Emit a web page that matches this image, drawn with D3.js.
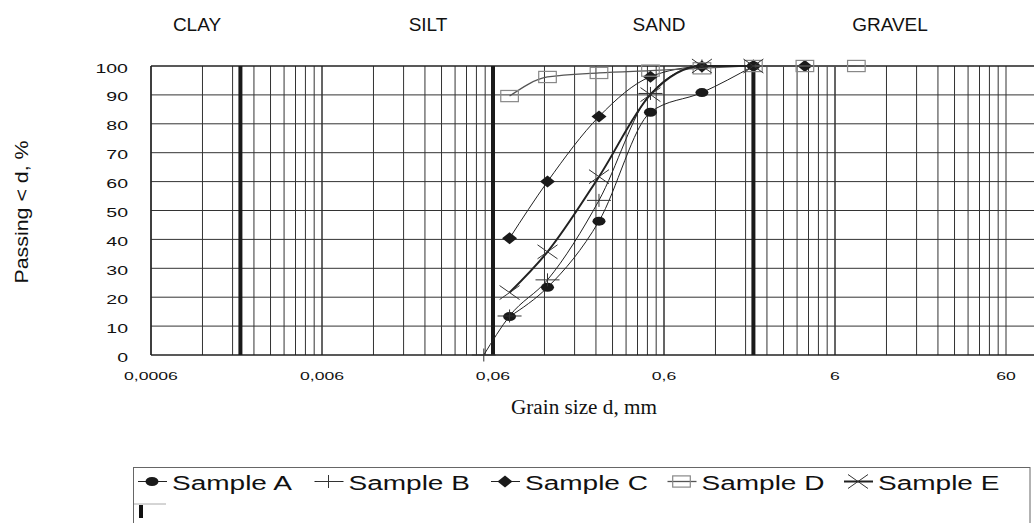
<!DOCTYPE html>
<html>
<head>
<meta charset="utf-8">
<script src="https://cdn.jsdelivr.net/npm/d3@7"></script>
<style>
    body { margin: 0; background: #fff; }
    svg text { font-family: "Liberation Sans", Arial, sans-serif; fill: #111; }
</style>
</head>
<body>
<div id="chart"></div>
<script>
/* ===== GRAIN SIZE DISTRIBUTION CHART ===== */

// Soil zones and their boundaries (mm)
const zoneNames = ['CLAY', 'SILT', 'SAND', 'GRAVEL'];
const zoneLimits = [0.002, 0.06, 2];

// Axis ticks
const xTickValues = [0.0006, 0.006, 0.06, 0.6, 6, 60];
const xTickLabels = ['0,0006', '0,006', '0,06', '0,6', '6', '60'];
const yTickValues = [0, 10, 20, 30, 40, 50, 60, 70, 80, 90, 100];

// Series: grain size d (mm) and passing (%)
const sampleNames = ['Sample A', 'Sample B', 'Sample C', 'Sample D', 'Sample E'];
const sizesA = [0.075, 0.125, 0.25, 0.5, 1, 2];
const passingA = [13.3, 23.4, 46.3, 84, 90.8, 100];
const sizesB = [0.053, 0.075, 0.125, 0.25, 0.5, 1, 2];
const passingB = [0, 13.5, 26, 53.5, 90.5, 100, 100];
const sizesC = [0.075, 0.125, 0.25, 0.5, 1, 2, 4];
const passingC = [40.4, 60, 82.5, 96.3, 99.8, 100, 100];
const sizesD = [0.075, 0.125, 0.25, 0.5, 1, 2, 4, 8];
const passingD = [89.6, 96.2, 97.6, 98.4, 99.2, 100, 100, 100];
const sizesE = [0.075, 0.125, 0.25, 0.5, 1, 2];
const passingE = [21.6, 35.7, 61.7, 90.1, 100, 100];

const W = 1034, H = 523;

const svg = d3.select('#chart').append('svg')
    .attr('width', W)
    .attr('height', H);

const x = d3.scaleLog().domain([0.0006, 60]).range([151, 1006]);
const y = d3.scaleLinear().domain([0, 100]).range([355, 66]);
const plotRight = 1044; // frame runs past the window edge

// stretch text horizontally (the original uses a wide face)
function stretch(sel, factor) {
    sel.each(function () {
        const w = this.getComputedTextLength();
        d3.select(this).attr('textLength', w * factor).attr('lengthAdjust', 'spacingAndGlyphs');
    });
}

// ----- grid -----
const grid = svg.append('g');
const minorValues = [];
for (let n = 0; n < 5; n++) {
    for (let k = 1; k <= 10; k++) {
        minorValues.push(0.0006 * Math.pow(10, n) * k);
    }
}
grid.selectAll('.vgrid')
    .data(minorValues)
    .enter().append('line')
    .attr('x1', d => x(d)).attr('x2', d => x(d))
    .attr('y1', y(0)).attr('y2', y(100))
    .attr('stroke', '#333').attr('stroke-width', 1);

grid.selectAll('.hgrid')
    .data(yTickValues)
    .enter().append('line')
    .attr('x1', x(0.0006)).attr('x2', plotRight)
    .attr('y1', d => y(d)).attr('y2', d => y(d))
    .attr('stroke', d => (d === 0 || d === 100) ? '#222' : '#333')
    .attr('stroke-width', d => (d === 0 || d === 100) ? 1.5 : 1);

grid.append('line')
    .attr('x1', x(0.0006)).attr('x2', x(0.0006))
    .attr('y1', y(0)).attr('y2', y(100))
    .attr('stroke', '#222').attr('stroke-width', 1.5);

// thick zone boundaries
grid.selectAll('.zone')
    .data(zoneLimits)
    .enter().append('line')
    .attr('x1', d => x(d)).attr('x2', d => x(d))
    .attr('y1', y(0)).attr('y2', y(100))
    .attr('stroke', '#1a1a1a').attr('stroke-width', 4);

// ----- axes labels -----
const yLabels = svg.append('g').selectAll('text')
    .data(yTickValues)
    .enter().append('text')
    .attr('x', 128)
    .attr('y', d => y(d) + 6.5)
    .attr('text-anchor', 'end')
    .style('font-size', '13px')
    .text(d => d);
stretch(yLabels, 1.5);

const xLabels = svg.append('g').selectAll('text')
    .data(xTickValues)
    .enter().append('text')
    .attr('x', d => x(d))
    .attr('y', 379.5)
    .attr('text-anchor', 'middle')
    .style('font-size', '11px')
    .text((d, i) => xTickLabels[i]);
stretch(xLabels, 1.6);

svg.append('text')
    .attr('x', 584).attr('y', 414)
    .attr('text-anchor', 'middle')
    .style('font-family', '"Liberation Serif", "Times New Roman", serif')
    .style('font-size', '20px')
    .attr('textLength', 146).attr('lengthAdjust', 'spacingAndGlyphs')
    .text('Grain size d, mm');

svg.append('text')
    .attr('transform', 'translate(28,212) rotate(-90)')
    .attr('text-anchor', 'middle')
    .style('font-size', '18px')
    .attr('textLength', 143).attr('lengthAdjust', 'spacingAndGlyphs')
    .text('Passing < d, %');

// zone names across the top
svg.append('g').selectAll('text')
    .data(zoneNames)
    .enter().append('text')
    .attr('x', (d, i) => 197 + i * 231)
    .attr('y', 31)
    .attr('text-anchor', 'middle')
    .style('font-size', '19px')
    .text(d => d);

// ----- markers -----
function drawMarker(g, type, cx, cy) {
    if (type === 'circle') {
        g.append('ellipse').attr('cx', cx).attr('cy', cy)
            .attr('rx', 6.5).attr('ry', 4.5).attr('fill', '#1a1a1a');
    } else if (type === 'plus') {
        g.append('path')
            .attr('d', `M${cx - 12},${cy}H${cx + 12}M${cx},${cy - 6.5}V${cy + 6.5}`)
            .attr('stroke', '#333').attr('stroke-width', 1).attr('fill', 'none');
    } else if (type === 'diamond') {
        g.append('path')
            .attr('d', `M${cx},${cy - 6}L${cx + 7.5},${cy}L${cx},${cy + 6}L${cx - 7.5},${cy}Z`)
            .attr('fill', '#1a1a1a');
    } else if (type === 'square') {
        g.append('rect')
            .attr('x', cx - 8.8).attr('y', cy - 5.6)
            .attr('width', 17.6).attr('height', 11.2)
            .attr('fill', 'none').attr('stroke', '#888').attr('stroke-width', 1.2);
    } else if (type === 'cross') {
        g.append('path')
            .attr('d', `M${cx - 10},${cy - 7}L${cx + 10},${cy + 7}M${cx - 10},${cy + 7}L${cx + 10},${cy - 7}`)
            .attr('stroke', '#333').attr('stroke-width', 1).attr('fill', 'none');
    }
}

const series = [
    { name: sampleNames[0], sizes: sizesA, passing: passingA, marker: 'circle', color: '#222', width: 1 },
    { name: sampleNames[1], sizes: sizesB, passing: passingB, marker: 'plus', color: '#222', width: 1 },
    { name: sampleNames[2], sizes: sizesC, passing: passingC, marker: 'diamond', color: '#222', width: 1 },
    { name: sampleNames[3], sizes: sizesD, passing: passingD, marker: 'square', color: '#555', width: 1.3 },
    { name: sampleNames[4], sizes: sizesE, passing: passingE, marker: 'cross', color: '#222', width: 2 }
];

const line = d3.line()
    .x(d => x(d.d))
    .y(d => y(d.p))
    .curve(d3.curveMonotoneX);

const seriesLayer = svg.append('g');
series.forEach(s => {
    const pts = s.sizes.map((d, i) => ({ d: d, p: s.passing[i] }));
    const g = seriesLayer.append('g');
    g.append('path')
        .datum(pts)
        .attr('d', line)
        .attr('fill', 'none')
        .attr('stroke', s.color)
        .attr('stroke-width', s.width);
    pts.forEach(p => drawMarker(g, s.marker, x(p.d), y(p.p)));
});

// ----- legend -----
const legend = svg.append('g');
legend.append('rect')
    .attr('x', 133.5).attr('y', 467.5)
    .attr('width', 1030 - 133.5).attr('height', 70)
    .attr('fill', '#fff').attr('stroke', '#666').attr('stroke-width', 1);

series.forEach((s, i) => {
    const tx = 172 + i * 176.5;
    const ly = 481.5;
    legend.append('line')
        .attr('x1', tx - 34).attr('x2', tx - 5)
        .attr('y1', ly).attr('y2', ly)
        .attr('stroke', s.color).attr('stroke-width', s.width);
    drawMarker(legend, s.marker, tx - 20, ly);
    const t = legend.append('text')
        .attr('x', tx).attr('y', 490)
        .style('font-size', '20px')
        .text(s.name);
    stretch(t, 1.4);
});

// cut-off sixth entry on the second row
legend.append('line')
    .attr('x1', 134).attr('x2', 166).attr('y1', 504).attr('y2', 504)
    .attr('stroke', '#aaa').attr('stroke-width', 1);
legend.append('rect')
    .attr('x', 139).attr('y', 505).attr('width', 4).attr('height', 13)
    .attr('fill', '#111');
</script>
</body>
</html>
